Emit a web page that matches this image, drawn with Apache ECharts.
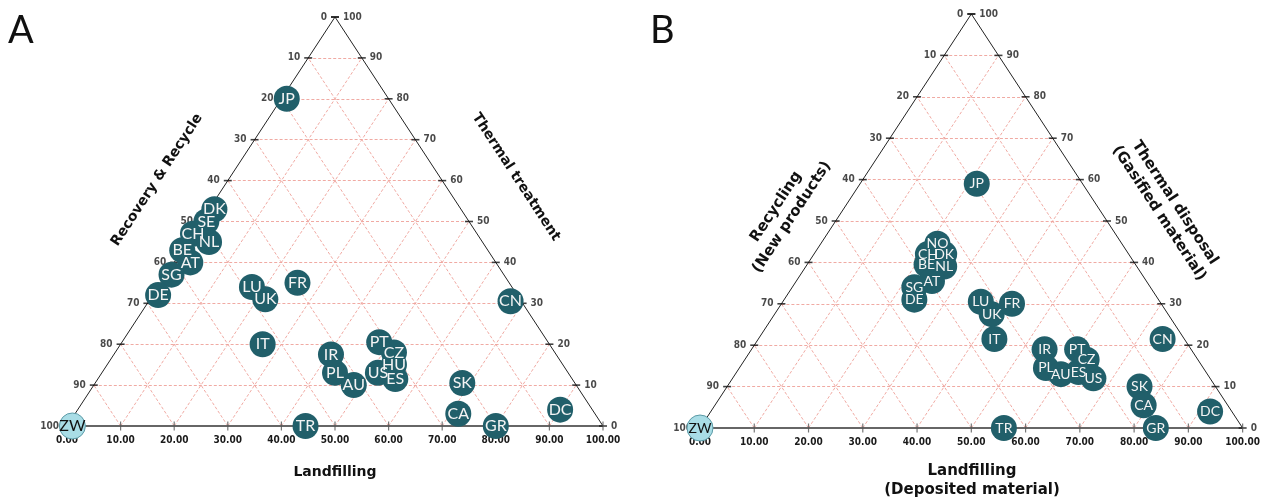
<!DOCTYPE html>
<html>
<head>
<meta charset="utf-8">
<script src="https://cdn.jsdelivr.net/npm/echarts@6/dist/echarts.min.js"></script>
<style>
  html, body { margin: 0; padding: 0; background: #fff; }
  #chart { width: 1263px; height: 497px; }
</style>
</head>
<body>
<div id="chart"></div>
<script>
  // 坐标轴刻度
  const gridSteps = [10, 20, 30, 40, 50, 60, 70, 80, 90];
  const edgeTicks = [0, 10, 20, 30, 40, 50, 60, 70, 80, 90, 100];

  // A 图数据 (landfill, thermal, recycle, 单位 %)
  const codesA = ['JP', 'DK', 'SE', 'CH', 'NL', 'BE', 'AT', 'SG', 'DE', 'LU', 'UK', 'FR', 'IT', 'IR', 'PL', 'AU',
    'PT', 'CZ', 'HU', 'US', 'ES', 'SK', 'CA', 'GR', 'DC', 'CN', 'TR', 'ZW'];
  const landfillA = [1, 1, 1, 0, 4, 0, 3, 1, 1, 17.5, 21.5, 25.5, 26.5, 40.5, 43.5, 48.5,
    48, 52, 53.5, 51.5, 55.5, 68.5, 71.5, 80, 90, 67.5, 44.5, 1];
  const thermalA = [80, 53, 50, 47, 45, 43, 40, 37, 32, 34, 31, 35, 20, 17.5, 13, 10,
    20.5, 18, 15, 13, 11.5, 10.5, 3, 0, 4, 30.5, 0, 0];
  const recycleA = [19, 46, 49, 53, 51, 57, 57, 62, 67, 48.5, 47.5, 39.5, 53.5, 42, 43.5, 41.5,
    31.5, 30, 31.5, 35.5, 33, 21, 25.5, 20, 6, 2, 55.5, 99];

  // B 图数据
  const codesB = ['JP', 'NO', 'CH', 'DK', 'BE', 'NL', 'AT', 'SG', 'DE', 'LU', 'UK', 'FR', 'IT', 'IR', 'PL', 'AU',
    'ES', 'US', 'PT', 'CZ', 'CN', 'SK', 'CA', 'GR', 'DC', 'TR', 'ZW'];
  const landfillB = [21.5, 21.5, 21, 24, 22, 25.5, 25, 22.5, 24, 36.5, 40, 42.5, 43.5, 54, 56.5, 60,
    63, 66.5, 60, 63, 74.5, 76, 79, 84, 92, 56, 0];
  const thermalB = [59, 44.5, 42, 42, 39.5, 39, 35.5, 34, 31, 30.5, 27.5, 30, 21.5, 19, 14.5, 13,
    13.5, 12, 19, 16.5, 21.5, 10, 5.5, 0, 4, 0, 0];
  const recycleB = [19.5, 34, 37, 34, 38.5, 35.5, 39.5, 43.5, 45, 33, 32.5, 27.5, 35, 27, 29, 27,
    23.5, 21.5, 21, 20.5, 4, 14, 15.5, 16, 4, 44, 100];

  const NUM_FONT = '"DejaVu Sans Condensed", "DejaVu Sans", sans-serif';
  const TEAL = '#215f6a';

  // 三元坐标 -> 直角坐标 (左下 recycle, 右下 landfill, 顶部 thermal)
  const toXY = (landfill, thermal) => [landfill + thermal / 2, thermal];

  const buildPanel = (idx, codes, landfill, thermal, recycle, labelSize) => {
    const base = { xAxisIndex: idx, yAxisIndex: idx, silent: true };
    const gridLines = [];
    gridSteps.forEach((v) => {
      gridLines.push({ coords: [[v / 2, v], [100 - v / 2, v]] });
      gridLines.push({ coords: [[v, 0], [50 + v / 2, 100 - v]] });
      gridLines.push({ coords: [[v, 0], [v / 2, v]] });
    });

    const points = codes.map((c, i) => {
      const item = { name: c, value: toXY(landfill[i], thermal[i]), recycle: recycle[i] };
      if (c === 'ZW') {
        item.itemStyle = { color: '#a9dde6', borderColor: '#5b9aa6', borderWidth: 1 };
        item.label = { color: '#111' };
      }
      return item;
    });

    return [
      {
        ...base,
        type: 'lines',
        coordinateSystem: 'cartesian2d',
        data: gridLines,
        lineStyle: { color: '#eea199', width: 1, type: [3, 2], opacity: 0.9 },
        z: 1,
      },
      {
        ...base,
        type: 'line',
        data: [[0, 0], [50, 100], [100, 0]],
        symbol: 'none',
        lineStyle: { color: '#222', width: 1 },
        z: 2,
      },
      {
        ...base,
        type: 'line',
        data: [[0, 0], [100, 0]],
        symbol: 'none',
        lineStyle: { color: '#666', width: 2 },
        z: 2,
      },
      {
        // 左边刻度
        ...base,
        type: 'scatter',
        data: edgeTicks.map((t) => ({ value: [t / 2, t], label: { formatter: String(100 - t) } })),
        symbol: 'rect',
        symbolSize: [8, 1.6],
        itemStyle: { color: '#111' },
        label: { show: true, position: 'left', distance: 4, fontSize: 10, fontWeight: 'bold', fontFamily: NUM_FONT, color: '#1a1a1a' },
        z: 3,
      },
      {
        // 右边刻度
        ...base,
        type: 'scatter',
        data: edgeTicks.map((t) => ({ value: [100 - t / 2, t], label: { formatter: String(t) } })),
        symbol: 'rect',
        symbolSize: [8, 1.6],
        itemStyle: { color: '#111' },
        label: { show: true, position: 'right', distance: 4, fontSize: 10, fontWeight: 'bold', fontFamily: NUM_FONT, color: '#1a1a1a' },
        z: 3,
      },
      {
        // 底边刻度
        ...base,
        type: 'scatter',
        data: edgeTicks.map((t) => [t, 0]),
        symbol: 'rect',
        symbolSize: [1.2, 9],
        itemStyle: { color: '#555' },
        z: 3,
      },
      {
        ...base,
        type: 'scatter',
        data: points,
        symbolSize: 26,
        itemStyle: { color: TEAL, opacity: 1 },
        label: {
          show: true,
          position: 'inside',
          formatter: '{b}',
          color: '#f4f4f4',
          fontSize: labelSize,
          fontFamily: 'Lato, "Open Sans", sans-serif',
        },
        z: 5,
      },
    ];
  };

  const chart = echarts.init(document.getElementById('chart'));

  const axisX = (idx) => ({
    gridIndex: idx,
    type: 'value',
    min: 0,
    max: 100,
    interval: 10,
    axisLine: { show: false },
    axisTick: { show: false },
    splitLine: { show: false },
    axisLabel: {
      margin: 9,
      fontSize: 10,
      fontWeight: 'bold',
      fontFamily: NUM_FONT,
      color: '#1a1a1a',
      formatter: (v) => v.toFixed(2),
    },
  });
  const axisY = (idx) => ({ gridIndex: idx, type: 'value', min: 0, max: 100, show: false });

  const angA = Math.atan2(409, 268);
  const angB = Math.atan2(414, 272.5);
  const titleFontA = 'bold 14px "DejaVu Sans", sans-serif';
  const titleFontB = 'bold 15px "DejaVu Sans", sans-serif';
  const panelFont = '38px Lato, "Open Sans", sans-serif';

  const option = {
    animation: false,
    grid: [
      { left: 67, top: 17, width: 536, height: 409 },
      { left: 700, top: 14, width: 545, height: 414 },
    ],
    xAxis: [axisX(0), axisX(1)],
    yAxis: [axisY(0), axisY(1)],
    graphic: [
      { type: 'text', x: 8, y: 12, style: { text: 'A', font: panelFont, fill: '#111' } },
      { type: 'text', x: 650, y: 12, style: { text: 'B', font: panelFont, fill: '#111' } },
      {
        type: 'text', x: 335, y: 472,
        style: { text: 'Landfilling', font: titleFontA, fill: '#111', align: 'center', verticalAlign: 'middle' },
      },
      {
        type: 'text', x: 157, y: 180, rotation: angA,
        style: { text: 'Recovery & Recycle', font: titleFontA, fill: '#111', align: 'center', verticalAlign: 'middle' },
      },
      {
        type: 'text', x: 516, y: 177, rotation: -angA,
        style: { text: 'Thermal treatment', font: titleFontA, fill: '#111', align: 'center', verticalAlign: 'middle' },
      },
      {
        type: 'text', x: 972, y: 481,
        style: { text: 'Landfilling\n(Deposited material)', font: titleFontB, lineHeight: 19, fill: '#111', align: 'center', verticalAlign: 'middle' },
      },
      {
        type: 'text', x: 784, y: 212, rotation: angB,
        style: { text: 'Recycling\n(New products)', font: titleFontB, lineHeight: 19, fill: '#111', align: 'center', verticalAlign: 'middle' },
      },
      {
        type: 'text', x: 1167, y: 208, rotation: -angB,
        style: { text: 'Thermal disposal\n(Gasified material)', font: titleFontB, lineHeight: 19, fill: '#111', align: 'center', verticalAlign: 'middle' },
      },
    ],
    series: [
      ...buildPanel(0, codesA, landfillA, thermalA, recycleA, 16),
      ...buildPanel(1, codesB, landfillB, thermalB, recycleB, 14),
    ],
  };

  chart.setOption(option);
</script>
</body>
</html>
